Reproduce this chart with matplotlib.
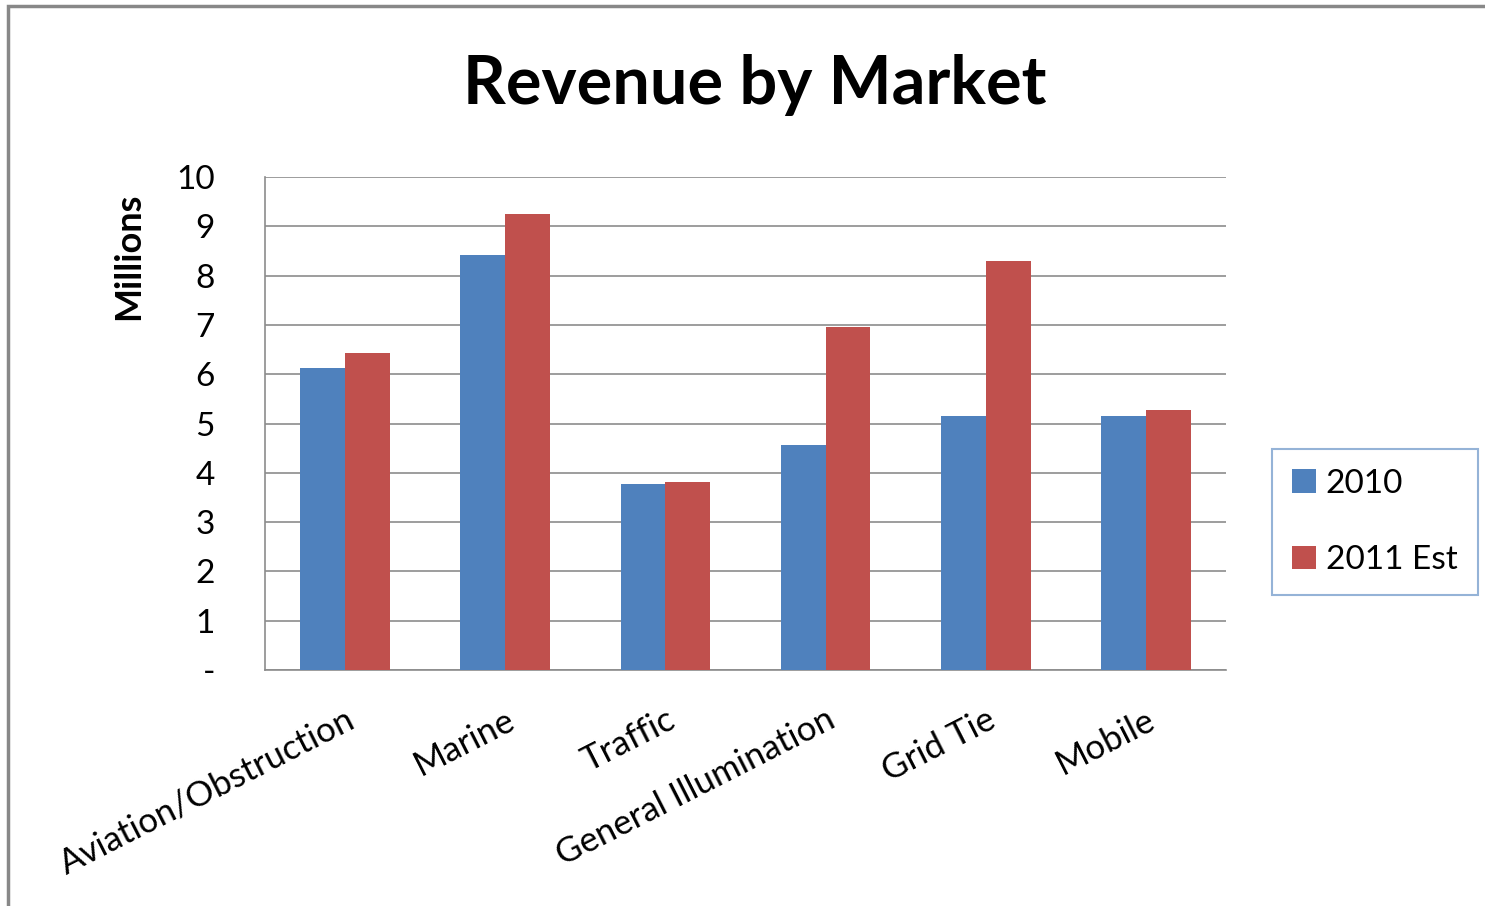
import matplotlib.pyplot as plt
import numpy as np
from matplotlib.patches import Rectangle

plt.rcParams['font.family'] = ['Lato', 'DejaVu Sans']

# --- Data ---
markets = ["Aviation/Obstruction", "Marine", "Traffic",
           "General Illumination", "Grid Tie", "Mobile"]
rev_2010 = [6.13, 8.42, 3.77, 4.56, 5.15, 5.15]
rev_2011 = [6.43, 9.25, 3.81, 6.96, 8.30, 5.27]
yticks = [0, 1, 2, 3, 4, 5, 6, 7, 8, 9, 10]
ytick_labels = ["-"] + [str(v) for v in yticks[1:]]

fig = plt.figure(figsize=(14.85, 9.06), dpi=100)
ax = fig.add_axes([265 / 1485, 236 / 906, 961 / 1485, 493 / 906])

# outer chart frame (only top/left visible in the reference)
fig.patches.append(Rectangle((8 / 1485, -0.1), 1.2, 0.1 + 900 / 906,
                             transform=fig.transFigure, fill=False,
                             edgecolor="#888888", linewidth=2.5))

x = np.arange(len(markets))
w = 0.28
ax.bar(x - w / 2, rev_2010, w, color="#4F81BD", label="2010", zorder=3)
ax.bar(x + w / 2, rev_2011, w, color="#C0504D", label="2011 Est", zorder=3)

ax.set_xlim(-0.5, len(markets) - 0.5)
ax.set_ylim(0, 10)
ax.set_yticks(yticks)
ax.set_yticklabels(ytick_labels, fontsize=24)
ax.yaxis.grid(True, color="#8c8c8c", linewidth=1.2, zorder=0)
ax.tick_params(axis="y", length=0, pad=36)
for lbl in ax.get_yticklabels():
    lbl.set_horizontalalignment("right")

ax.set_xticks(x)
ax.set_xticklabels(markets, fontsize=25, rotation=27, ha="right",
                   rotation_mode="anchor")
ax.tick_params(axis="x", length=0, pad=24)

for side in ["top", "right"]:
    ax.spines[side].set_visible(False)
for side in ["left", "bottom"]:
    ax.spines[side].set_color("#8c8c8c")
    ax.spines[side].set_linewidth(1.2)

ax.set_ylabel("Millions", fontsize=26, fontweight="bold")
ax.yaxis.set_label_coords(-0.125, 0.84)

fig.text(755 / 1485, 1 - 85 / 906, "Revenue by Market", fontsize=48,
         fontweight="bold", ha="center", va="center")

leg = fig.legend(loc="center", bbox_to_anchor=(1375 / 1485, 1 - 522 / 906),
                 fontsize=24, frameon=True, fancybox=False,
                 handlelength=0.7, handleheight=0.7, handletextpad=0.3,
                 labelspacing=1.4, borderpad=0.6)
leg.get_frame().set_edgecolor("#7BA0CD")
leg.get_frame().set_linewidth(1.5)

fig.savefig("out.png", dpi=100)
